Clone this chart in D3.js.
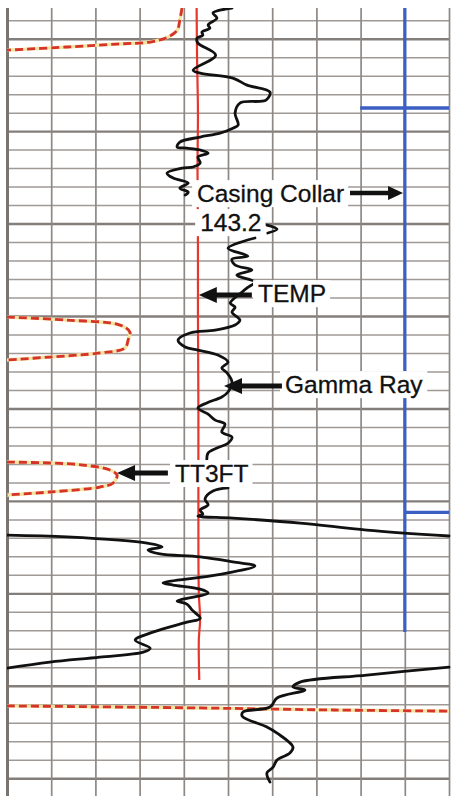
<!DOCTYPE html>
<html><head><meta charset="utf-8">
<script src="https://cdn.jsdelivr.net/npm/d3@7"></script>
<style>html,body{margin:0;padding:0;background:#fff;} svg{display:block;}</style>
</head><body>
<svg id="chart" width="451" height="796"></svg>
<script>
// ---- grid (track divisions and depth lines, ft) ----
const trackDivisions = [0,1,2,3,4,5,6,7,8,9,10];
const depthLines = [129,130,131,132,133,134,135,136,137,138,139,140,141,142,143,144,145,146,147,148,149,150,
  151,152,153,154,155,156,157,158,159,160,161,162,163,164,165,166,167,168,169,170];

// ---- Gamma Ray trace segments: [track value, depth] ----
const gammaA = [[5.09,128.34],[4.66,128.61],[4.75,128.89],[4.55,129.26],[4.59,129.43],[4.41,129.64],[4.43,129.81],
  [4.30,129.97],[4.32,130.24],[4.72,130.89],[4.21,131.70],[4.37,131.86],[5.11,132.13],[5.43,132.51],[5.95,132.89],
  [5.86,133.32],[5.27,133.48],[5.16,134.02],[5.23,134.67],[5.11,134.84],[4.82,135.11],[4.37,135.32],[3.91,135.59],
  [3.85,135.86],[4.07,135.92],[4.37,136.02],[4.55,136.19],[4.32,136.40],[4.37,136.73],[4.21,136.94],[3.96,137.00],
  [3.62,137.27],[3.76,137.54],[4.10,137.81],[3.91,138.08],[4.10,138.30],[4.03,138.46]];
const gammaB = [[5.88,140.08],[6.11,140.30],[5.90,140.51]];
const gammaC = [[5.61,140.78],[5.00,141.33],[5.45,141.76],[5.09,141.92],[5.16,142.24],[5.54,142.51],[5.20,142.79],
  [5.61,143.16],[5.45,143.45],[5.32,143.70],[5.05,144.30],[5.16,144.52],[5.09,144.79],[5.27,145.22],[5.16,145.49],
  [4.71,145.76],[4.14,145.92],[3.87,146.30],[4.03,146.68],[4.32,146.84],[4.77,147.11],[5.00,147.49],[4.86,147.81],
  [4.98,148.08],[5.09,148.57],[5.00,149.11],[4.86,149.38],[4.52,149.70],[4.32,149.98],[4.55,150.31],[4.71,150.63],
  [4.93,150.85],[4.86,151.28],[5.09,151.55],[5.00,151.88],[4.75,152.14],[4.55,152.41],[4.52,152.84]];
const gammaD = [[5.00,154.30],[4.66,154.47],[4.48,154.90],[4.55,155.22],[4.37,155.49],[4.43,155.71],[4.32,155.82],
  [5.11,155.93],[6.63,156.20],[8.14,156.58],[10.0,156.90]];
const gammaE = [[0,156.85],[1.36,156.95],[3.17,157.28],[3.51,157.49],[3.19,157.66],[3.46,157.87],[4.37,158.03],
  [5.11,158.30],[5.61,158.52],[4.75,159.00],[3.53,159.44],[3.76,159.55],[4.37,159.77],[4.55,159.98],[3.91,160.36],
  [3.85,160.42],[4.07,160.58],[4.19,160.91],[4.37,161.35],[4.07,161.56],[3.30,162.10],[2.90,162.53],[3.24,162.97],
  [3.08,163.18],[2.10,163.45],[0.97,163.72],[0,164.05]];
const gammaF = [[10,163.99],[8.14,164.42],[6.63,164.80],[6.47,165.07],[6.74,165.23],[6.11,165.66],[5.95,166.15],
  [5.34,166.42],[5.32,166.64],[5.88,167.23],[6.11,167.56],[6.47,168.31],[6.40,168.64],[6.11,169.02],[6.02,169.40],
  [5.88,169.72],[5.95,170.21]];

// ---- TEMP trace ----
const tempTrace = [[4.29,128.34],[4.30,131],[4.32,134],[4.31,137],[4.32,141],[4.32,145],[4.33,150],[4.33,155],
  [4.34,160],[4.37,161.4],[4.34,162.5],[4.35,164.69]];

// ---- TT3FT trace segments ----
const tt3ftA = [[3.96,128.34],[3.91,128.99],[3.85,129.54],[3.64,129.91],[3.24,130.18],[2.49,130.29],[1.36,130.45],[0,130.62]];
const tt3ftB = [[0,145.06],[1.36,145.22],[2.56,145.49],[2.78,145.87],[2.74,146.30],[2.67,146.73],[2.10,147.00],[0.97,147.22],[0,147.38]];
const tt3ftC = [[0,152.90],[0.97,152.95],[1.72,153.06],[2.33,153.33],[2.49,153.60],[2.40,154.03],[2.10,154.25],[0.97,154.52],[0,154.68]];
const tt3ftD = [[0,166.09],[4.37,166.20],[7.38,166.31],[10,166.37]];

// ---- Casing collar locator ----
const collarBase = [[9.0,128.34],[9.0,162.09]];
const collarDepths = [133.75, 155.62];
const collarFrom = [7.99, 9.0];
const collarTo = [10, 10];

// ---- annotations ----
const labelText = ["Casing Collar","143.2","TEMP","Gamma Ray","TT3FT"];
const labelX = [4.30, 4.37, 5.68, 6.29, 3.80];
const labelDepth = [138.84, 140.41, 144.25, 149.17, 153.98];
const arrowTail = [7.76, 5.54, 6.22, 3.64];
const arrowTip = [8.96, 4.34, 4.91, 2.49];
const arrowDepth = [138.35, 143.87, 148.79, 153.49];

// ---- scales ----
const x = d3.scaleLinear().domain([0,10]).range([7,449]);
const y = d3.scaleLinear().domain([128.34,171]).range([8,796.7]);
const svg = d3.select('#chart');

svg.append('defs').append('clipPath').attr('id','plot')
  .append('rect').attr('x',x(0)).attr('y',y(128.34)).attr('width',x(10)-x(0)+2).attr('height',796-y(128.34));

// grid: depth lines
const gy = svg.append('g').attr('transform',`translate(${x(0)},0)`)
  .call(d3.axisLeft(y).tickValues(depthLines).tickSize(-(x(10)-x(0))).tickFormat(''));
gy.select('.domain').remove();
gy.selectAll('.tick line')
  .attr('stroke', d => d % 5 === 0 ? '#847e7a' : '#a09a96')
  .attr('stroke-width', d => d % 5 === 0 ? 2.4 : 1.5);

// grid: track divisions
const gx = svg.append('g').attr('transform',`translate(0,${y(128.34)})`)
  .call(d3.axisTop(x).tickValues(trackDivisions).tickSize(-(796-y(128.34))).tickFormat(''));
gx.select('.domain').remove();
gx.selectAll('.tick line')
  .attr('stroke', d => d === 0 ? '#7a7470' : '#8e8884')
  .attr('stroke-width', d => d === 0 ? 3 : 1.7);

const line = d3.line().x(d => x(d[0])).y(d => y(d[1])).curve(d3.curveCatmullRom.alpha(0.5));
const plot = svg.append('g').attr('clip-path','url(#plot)');

// TT3FT dashed
[tt3ftA, tt3ftB, tt3ftC, tt3ftD].forEach(seg => {
  plot.append('path').attr('d', line(seg)).attr('fill','none')
    .attr('stroke','#f5e3a0').attr('stroke-width',3.4);
  plot.append('path').attr('d', line(seg)).attr('fill','none')
    .attr('stroke','#d5332b').attr('stroke-width',2.8).attr('stroke-dasharray','8,4');
});

// TEMP
plot.append('path').attr('d', line(tempTrace)).attr('fill','none')
  .attr('stroke','#e8362b').attr('stroke-width',2.2);

// Casing collar
const collarColor = '#3b5fc2';
plot.append('path').attr('d', d3.line().x(d=>x(d[0])).y(d=>y(d[1]))(collarBase))
  .attr('fill','none').attr('stroke',collarColor).attr('stroke-width',3.2);
plot.selectAll('line.collar').data(collarDepths).join('line').attr('class','collar')
  .attr('x1',(d,i)=>x(collarFrom[i])).attr('x2',(d,i)=>x(collarTo[i]))
  .attr('y1',d=>y(d)).attr('y2',d=>y(d))
  .attr('stroke',collarColor).attr('stroke-width',3.4);

// Gamma ray
[gammaA, gammaB, gammaC, gammaD, gammaE, gammaF].forEach(seg => {
  plot.append('path').attr('d', line(seg)).attr('fill','none')
    .attr('stroke','#111').attr('stroke-width',2.8)
    .attr('stroke-linejoin','round').attr('stroke-linecap','round');
});

// labels with white backing
const labG = svg.append('g');
labelText.forEach((t,i) => {
  const g = labG.append('g');
  const r = g.append('rect').attr('fill','#fff');
  const tx = g.append('text').attr('x', x(labelX[i])).attr('y', y(labelDepth[i]))
    .attr('font-family','Arial, "Liberation Sans", sans-serif').attr('font-size',24.5)
    .attr('fill','#111').attr('stroke','#111').attr('stroke-width',0.3).text(t);
  const b = tx.node().getBBox();
  r.attr('x', b.x-5).attr('y', b.y).attr('width', b.width+9).attr('height', b.height);
});

// arrows
arrowTip.forEach((tip,i) => {
  const yy = y(arrowDepth[i]);
  const xt = x(tip), xs = x(arrowTail[i]);
  const dir = Math.sign(xs - xt);
  const big = i !== 0;
  const hl = big ? 18 : 15, hw = big ? 8 : 7, sw = big ? 5 : 4.6;
  svg.append('line').attr('x1', xs).attr('x2', xt + dir*hl*0.8).attr('y1', yy).attr('y2', yy)
    .attr('stroke','#111').attr('stroke-width', sw);
  svg.append('path')
    .attr('d', `M${xt},${yy}L${xt+dir*hl},${yy-hw}L${xt+dir*hl},${yy+hw}Z`)
    .attr('fill','#111');
});
</script>
</body></html>
